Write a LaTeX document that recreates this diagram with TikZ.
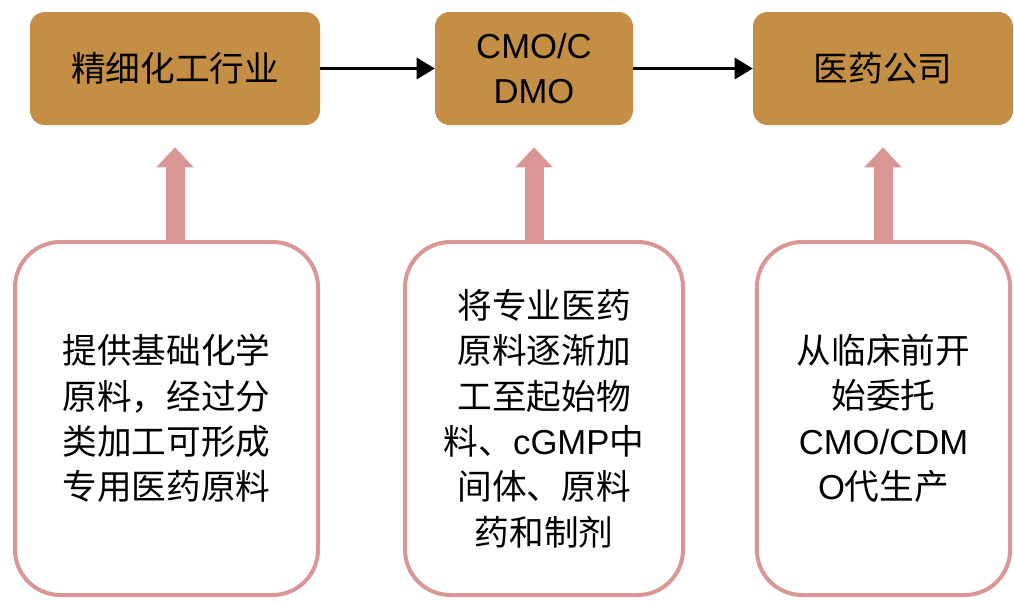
\documentclass[tikz,border=0pt]{standalone}
\usepackage{fontspec}
\setmainfont{Liberation Sans}
\newfontfamily\cjk{Noto Sans CJK SC}
\newfontfamily\latinfont{Liberation Sans}
\newcommand\lat[1]{{\latinfont #1}}
\usetikzlibrary{arrows.meta}
\definecolor{brownfill}{HTML}{C48F45}
\definecolor{pinkc}{HTML}{D99694}
\tikzset{
  topbox/.style={draw=none, fill=brownfill, rounded corners=11pt, minimum height=84.75pt,
    align=center, inner sep=0pt, font=\cjk\fontsize{26pt}{34pt}\selectfont},
  botbox/.style={draw=pinkc, line width=3pt, fill=white, rounded corners=34pt,
    minimum width=227.25pt, minimum height=264.75pt,
    align=center, inner sep=0pt, font=\cjk\fontsize{26pt}{34pt}\selectfont},
  flowarrow/.style={line width=1.6pt, -{Triangle[length=13.5pt,width=16pt]}},
  uparrow/.style={draw=pinkc, line width=14.25pt, -{Triangle[length=15pt,width=27pt]}},
}
\begin{document}
\begin{tikzpicture}[x=0.75pt,y=-0.75pt]
\useasboundingbox (0,0) rectangle (1014,600);
\node[topbox, minimum width=217.5pt] (t1) at (175,68.5) {精细化工行业};
\node[topbox, minimum width=148.5pt] (t2) at (534,68.5) {\lat{CMO/C}\\\lat{DMO}};
\node[topbox, minimum width=195pt] (t3) at (883,68.5) {医药公司};
\node[botbox] (b1) at (166.5,418.5) {提供基础化学\\原料，经过分\\类加工可形成\\专用医药原料};
\node[botbox, minimum width=208.5pt] (b2) at (544,418.5) {将专业医药\\原料逐渐加\\工至起始物\\料、\lat{cGMP}中\\间体、原料\\药和制剂};
\node[botbox, minimum width=190pt] (b3) at (883.5,418.5) {从临床前开\\始委托\\\lat{CMO/CDM}\\\lat{O}代生产};
\draw[flowarrow] (t1.east) -- (t2.west);
\draw[flowarrow] (t2.east) -- (t3.west);
\draw[uparrow] (t1.south |- b1.north) -- ([yshift=-16.5pt]t1.south);
\draw[uparrow] (t2.south |- b2.north) -- ([yshift=-16.5pt]t2.south);
\draw[uparrow] (t3.south |- b3.north) -- ([yshift=-16.5pt]t3.south);
\end{tikzpicture}
\end{document}
